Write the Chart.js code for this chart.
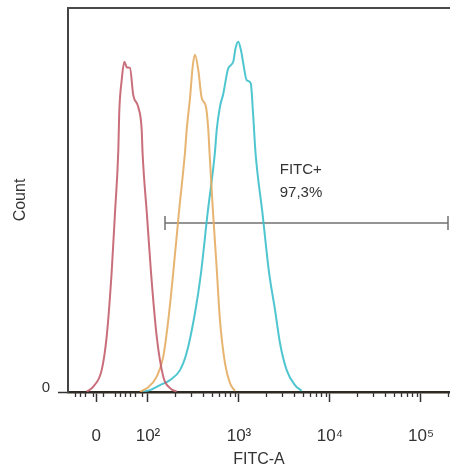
<!DOCTYPE html>
<html>
<head>
<meta charset="utf-8">
<script src="https://cdn.jsdelivr.net/npm/chart.js@4.4.1/dist/chart.umd.min.js"></script>
<style>
  body { margin: 0; background: #fff; }
  canvas { display: block; }
</style>
</head>
<body>
<canvas id="histChart" width="450" height="472"></canvas>
<script>
// x values are axis positions in decades (2 = 10^2, 3 = 10^3 ...), y = count (% of frame height)
const redX = [1.326, 1.399, 1.491, 1.546, 1.601, 1.637, 1.674, 1.684, 1.711, 1.740, 1.769, 1.802, 1.838, 1.893, 1.931, 1.94, 1.989, 2.033, 2.096, 2.168, 2.242, 2.315];
const redY = [0.1, 1.4, 5.7, 14.4, 31.3, 46.5, 63, 72.7, 81.2, 86, 84.5, 84.4, 77.3, 74.2, 68.2, 62.5, 46, 31.2, 14.4, 4.0, 1.0, 0.1];

const orangeX = [1.912, 1.986, 2.096, 2.168, 2.223, 2.278, 2.341, 2.407, 2.425, 2.462, 2.491, 2.516, 2.553, 2.590, 2.637, 2.663, 2.676, 2.714, 2.753, 2.791, 2.846, 2.901, 2.956];
const orangeY = [0.1, 0.95, 4.0, 9.2, 18.7, 31.2, 47, 62.5, 68.2, 76.6, 84.7, 87.8, 83.8, 76.6, 74.3, 68.2, 62.5, 47, 33, 18.7, 7.5, 2.3, 0.3];

const cyanX = [1.945, 2.022, 2.132, 2.242, 2.352, 2.425, 2.516, 2.58, 2.654, 2.736, 2.755, 2.791, 2.827, 2.882, 2.937, 2.962, 2.992, 3.022, 3.047, 3.085, 3.129, 3.157, 3.181, 3.258, 3.33, 3.396, 3.451, 3.524, 3.615, 3.689];
const cyanY = [0.1, 0.5, 1.8, 3.1, 5.7, 10.2, 20.5, 30.5, 46.3, 62.5, 68.2, 74.3, 77.6, 84.3, 86, 89.5, 91.2, 89, 85.6, 81.2, 80.4, 71.7, 62.5, 46.6, 31.2, 21.4, 12.7, 5.7, 1.8, 0.3];

const xTickValues = [1.43, 2, 3, 4, 5];
const xTickLabels = ['0', '10\u00b2', '10\u00b3', '10\u2074', '10\u2075'];
const xMinorTicks = [1.198, 1.253, 1.308, 1.396, 1.505, 1.637, 1.692, 1.747, 1.802, 1.857, 1.934,
  2.301, 2.477, 2.602, 2.699, 2.778, 2.845, 2.903, 2.954,
  3.301, 3.477, 3.602, 3.699, 3.778, 3.845, 3.903, 3.954,
  4.301, 4.477, 4.602, 4.699, 4.778, 4.845, 4.903, 4.954, 5.301];

const gateStart = 2.187;
const gateEnd = 5.297;
const gateLevel = 44;
const gateText = ['FITC+', '97,3%'];
const gateTextX = 3.448;
const gateTextY = [57.8, 51.8];

function toPoints(xs, ys) {
  return xs.map((x, i) => ({ x: x, y: ys[i] }));
}

// no extra room for edge labels, the frame runs to the canvas edge
function noEdgePadding(scale) {
  scale.paddingLeft = 0;
  scale.paddingRight = 0;
  scale.paddingTop = 0;
  scale.paddingBottom = 0;
}

// frame top line, minor x ticks and the gate label
const extrasPlugin = {
  id: 'extras',
  afterDraw(chart) {
    const c = chart.ctx;
    const area = chart.chartArea;
    const xs = chart.scales.x;
    const ys = chart.scales.y;
    c.save();
    c.strokeStyle = '#4a4a4a';
    c.lineWidth = 2;
    c.beginPath();
    c.moveTo(area.left - 1, area.top);
    c.lineTo(area.right, area.top);
    c.stroke();

    c.strokeStyle = '#333';
    c.lineWidth = 1.3;
    xMinorTicks.forEach(v => {
      const px = Math.round(xs.getPixelForValue(v)) + 0.5;
      c.beginPath();
      c.moveTo(px, area.bottom);
      c.lineTo(px, area.bottom + 5);
      c.stroke();
    });

    c.fillStyle = '#333';
    c.font = '15px "Liberation Sans", Arial, sans-serif';
    c.textAlign = 'left';
    c.textBaseline = 'middle';
    gateText.forEach((t, i) => {
      c.fillText(t, xs.getPixelForValue(gateTextX), ys.getPixelForValue(gateTextY[i]));
    });
    c.restore();
  }
};

const lineStyle = { borderWidth: 2, pointRadius: 0, fill: false, cubicInterpolationMode: 'monotone' };

const ctx = document.getElementById('histChart').getContext('2d');
const histChart = new Chart(ctx, {
  type: 'line',
  data: {
    datasets: [
      Object.assign({ label: 'red', data: toPoints(redX, redY), borderColor: 'rgba(195, 95, 110, 0.9)' }, lineStyle),
      Object.assign({ label: 'orange', data: toPoints(orangeX, orangeY), borderColor: 'rgba(228, 172, 98, 0.9)' }, lineStyle),
      Object.assign({ label: 'cyan', data: toPoints(cyanX, cyanY), borderColor: 'rgba(60, 192, 202, 0.9)' }, lineStyle),
      {
        label: 'gate',
        data: [{ x: gateStart, y: gateLevel }, { x: gateEnd, y: gateLevel }],
        borderColor: '#707070',
        borderWidth: 1.5,
        pointStyle: 'line',
        rotation: 90,
        pointRadius: 7,
        pointBorderWidth: 1.5,
        pointBorderColor: '#707070',
        fill: false
      }
    ]
  },
  options: {
    responsive: false,
    animation: false,
    layout: { autoPadding: false, padding: { top: 8, right: 0, left: 0, bottom: 0 } },
    plugins: {
      legend: { display: false },
      tooltip: { enabled: false }
    },
    scales: {
      x: {
        type: 'linear',
        min: 1.121,
        max: 5.319,
        afterBuildTicks(scale) {
          scale.ticks = xTickValues.map(v => ({ value: v }));
        },
        afterFit(scale) {
          scale.height = 80;
          noEdgePadding(scale);
        },
        ticks: {
          autoSkip: false,
          maxRotation: 0,
          padding: 24,
          color: '#333',
          font: { family: '"Liberation Sans", Arial, sans-serif', size: 17 },
          callback: (value, index) => xTickLabels[index]
        },
        grid: { drawOnChartArea: false, drawTicks: true, tickLength: 10, tickColor: '#333', tickWidth: 1.5 },
        border: { display: true, color: '#2e2a22', width: 2.5 },
        title: {
          display: true,
          text: 'FITC-A',
          color: '#333',
          font: { family: '"Liberation Sans", Arial, sans-serif', size: 16 },
          padding: { top: 0, bottom: 3 }
        }
      },
      y: {
        min: 0,
        max: 100,
        afterBuildTicks(scale) {
          scale.ticks = [{ value: 0 }];
        },
        afterFit(scale) {
          scale.width = 68;
          noEdgePadding(scale);
        },
        ticks: {
          padding: 8,
          labelOffset: -4,
          color: '#333',
          font: { family: '"Liberation Sans", Arial, sans-serif', size: 15 },
          callback: () => '0'
        },
        grid: { drawOnChartArea: false, drawTicks: true, tickLength: 10, tickColor: '#333', tickWidth: 1.5 },
        border: { display: true, color: '#444', width: 2 },
        title: {
          display: true,
          text: 'Count',
          color: '#333',
          font: { family: '"Liberation Sans", Arial, sans-serif', size: 16 },
          padding: { top: 11, bottom: 0 }
        }
      }
    }
  },
  plugins: [extrasPlugin]
});
</script>
</body>
</html>
